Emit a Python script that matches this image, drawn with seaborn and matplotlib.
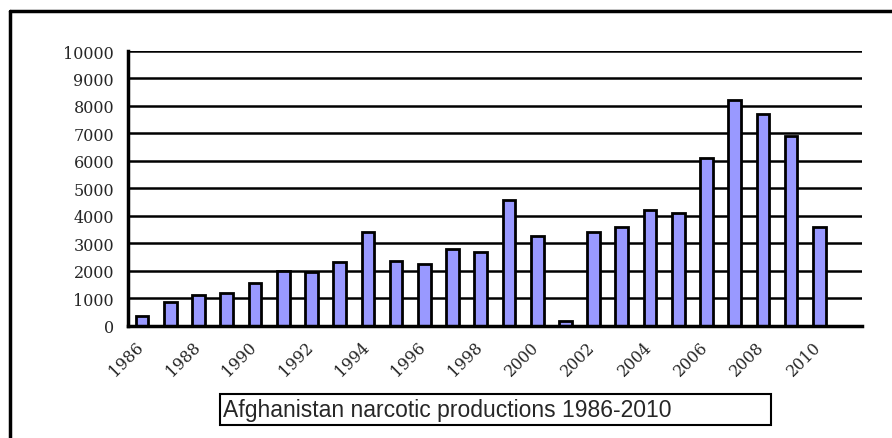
import matplotlib
matplotlib.use("Agg")
import matplotlib.pyplot as plt
import seaborn as sns
import pandas as pd
import numpy as np
from matplotlib.lines import Line2D
from matplotlib.patches import Rectangle

# Afghanistan opium production (tons)
years = [str(y) for y in range(1986, 2011)]
production = [350, 875, 1120, 1200, 1570, 1980, 1970, 2330, 3416, 2335,
              2248, 2804, 2693, 4565, 3276, 185, 3400, 3600, 4200, 4100,
              6100, 8200, 7700, 6900, 3600]
label_years = years[::2]
title = "Afghanistan narcotic productions 1986-2010"

df = pd.DataFrame({"Year": years, "Production": production})

sns.set_style("white")
fig = plt.figure(figsize=(8.92, 4.39), dpi=100)
ax = fig.add_axes([0.1435, 0.256, 0.8225, 0.6255])

sns.barplot(data=df, x="Year", y="Production", color="#9999FF", saturation=1,
            edgecolor="black", linewidth=2, width=0.45, ax=ax)

ax.set_xlim(-0.5, 25.5)
ax.set_ylim(0, 10000)
ax.set_yticks(range(0, 10001, 1000))
ax.yaxis.grid(True, color="black", linewidth=1.8)
ax.xaxis.grid(False)
ax.set_axisbelow(True)

# slanted year labels sit slightly left of their bar, as in the original
ax.set_xticks(np.arange(0, 25, 2) - 0.25)
ax.set_xticklabels(label_years, rotation=45, ha="right", rotation_mode="anchor",
                   family="DejaVu Serif", fontsize=11.5)
ax.set_xticks(np.arange(-0.5, 26, 1), minor=True)
ax.tick_params(axis="x", which="major", length=0, pad=9)
ax.tick_params(axis="x", which="minor", length=6, width=2, color="black", direction="out")
ax.tick_params(axis="y", length=7, width=1.8, color="black", direction="out", pad=3)
for t in ax.get_yticklabels():
    t.set_family("DejaVu Serif")
    t.set_fontsize(11.5)
ax.set_xlabel("")
ax.set_ylabel("")

for s in ["top", "right"]:
    ax.spines[s].set_visible(False)
for s in ["left", "bottom"]:
    ax.spines[s].set_color("black")
    ax.spines[s].set_linewidth(2.5)

# frame lines around the figure (top and left only visible)
fig.add_artist(Line2D([0.0112, 1.0], [0.9727, 0.9727], color="black", linewidth=2.5))
fig.add_artist(Line2D([0.0112, 0.0112], [0.0, 0.9727], color="black", linewidth=2.5))

# caption box
fig.add_artist(Rectangle((0.2466, 0.0296), 0.6177, 0.0706, transform=fig.transFigure,
                         fill=False, edgecolor="black", linewidth=1.5))
fig.text(0.2500, 0.0649, title, family="Liberation Sans", fontsize=16.5,
         ha="left", va="center")

plt.savefig("out.png", dpi=100)
plt.close()
